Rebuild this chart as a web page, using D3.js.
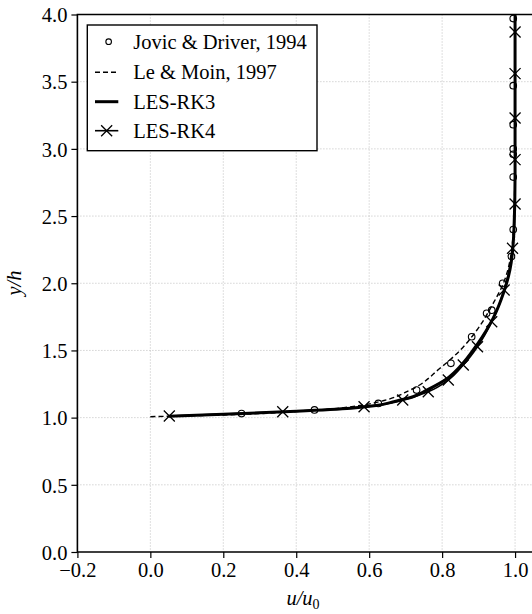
<!DOCTYPE html>
<html>
<head>
<meta charset="utf-8">
<script src="https://cdn.jsdelivr.net/npm/d3@7"></script>
<style>
  html, body { margin: 0; padding: 0; background: #fff; }
  svg { display: block; font-family: "Liberation Serif", "DejaVu Serif", serif; }
</style>
</head>
<body>
<svg id="chart" width="532" height="614"></svg>
<script>
// Jovic & Driver, 1994 (open circles)
const jovicX = [0.25, 0.45, 0.625, 0.73, 0.824, 0.881, 0.922, 0.936, 0.966, 0.99, 0.995, 0.995, 0.995, 0.995, 0.995, 0.995, 0.995];
const jovicY = [1.03, 1.057, 1.106, 1.205, 1.404, 1.602, 1.776, 1.80, 2.0, 2.20, 2.40, 2.79, 2.96, 3.0, 3.18, 3.47, 3.97];

// Le & Moin, 1997 (dashed)
const leMoinX = [0.0, 0.2, 0.4, 0.575, 0.63, 0.712, 0.794, 0.849, 0.895, 0.94, 0.968, 0.988, 0.997, 1.0, 1.0];
const leMoinY = [1.007, 1.02, 1.045, 1.09, 1.12, 1.205, 1.367, 1.50, 1.65, 1.85, 2.0, 2.2, 2.5, 3.0, 4.0];

// LES-RK3 (thick solid)
const rk3X = [0.05, 0.2, 0.4, 0.55, 0.62, 0.667, 0.72, 0.758, 0.813, 0.849, 0.895, 0.94, 0.968, 0.986, 0.997, 1.0, 1.0];
const rk3Y = [1.01, 1.025, 1.048, 1.07, 1.09, 1.118, 1.155, 1.205, 1.29, 1.38, 1.54, 1.74, 1.925, 2.1, 2.4, 2.8, 4.0];

// LES-RK4 (solid with x markers)
const rk4X = [0.052, 0.363, 0.586, 0.692, 0.762, 0.817, 0.858, 0.897, 0.936, 0.970, 0.993, 1.0, 1.0, 1.0, 1.0, 1.0];
const rk4Y = [1.012, 1.044, 1.081, 1.131, 1.193, 1.28, 1.391, 1.528, 1.713, 1.95, 2.26, 2.59, 2.92, 3.23, 3.56, 3.87];
const rk4EndX = 1.0, rk4EndY = 4.0;

const xTicks = [-0.2, 0.0, 0.2, 0.4, 0.6, 0.8, 1.0];
const yTicks = [0.0, 0.5, 1.0, 1.5, 2.0, 2.5, 3.0, 3.5, 4.0];
const legendLabels = ["Jovic & Driver, 1994", "Le & Moin, 1997", "LES-RK3", "LES-RK4"];

const zip = (xs, ys) => xs.map((x, i) => [x, ys[i]]);

const svg = d3.select("#chart");
const pLeft = 77.4, pRight = 533.3, pTop = 14.5, pBottom = 552;

const x = d3.scaleLinear().domain([-0.2, 1.05]).range([pLeft, pRight]);
const y = d3.scaleLinear().domain([0, 4]).range([pBottom, pTop]);

svg.append("defs").append("clipPath").attr("id", "plot")
  .append("rect").attr("x", pLeft).attr("y", pTop - 6)
  .attr("width", pRight - pLeft).attr("height", pBottom - pTop + 6);

// grid
const grid = svg.append("g").attr("stroke", "#b8b8b8").attr("stroke-width", 0.9)
  .attr("stroke-dasharray", "1,2");
grid.selectAll(".gx").data(xTicks.slice(1)).enter().append("line")
  .attr("x1", d => x(d)).attr("x2", d => x(d)).attr("y1", pTop).attr("y2", pBottom);
grid.selectAll(".gy").data(yTicks.slice(1, -1)).enter().append("line")
  .attr("y1", d => y(d)).attr("y2", d => y(d)).attr("x1", pLeft).attr("x2", pRight);

// axes
const xAxis = svg.append("g")
  .attr("transform", `translate(0,${pBottom})`)
  .call(d3.axisBottom(x).tickValues(xTicks).tickSize(6).tickPadding(4)
    .tickFormat(d => d3.format(".1f")(d).replace("-", "\u2212")));
const yAxis = svg.append("g")
  .attr("transform", `translate(${pLeft},0)`)
  .call(d3.axisLeft(y).tickValues(yTicks).tickSize(6).tickPadding(4).tickFormat(d3.format(".1f")));
[xAxis, yAxis].forEach(g => {
  g.select(".domain").remove();
  g.selectAll(".tick line").attr("stroke", "#000").attr("stroke-width", 1.2);
  g.selectAll(".tick text").attr("font-size", 20.5).attr("fill", "#000")
    .attr("font-family", "Liberation Serif, serif");
});
yAxis.selectAll(".tick text").attr("dy", "0.35em");

// spines
svg.append("path")
  .attr("d", `M${pRight},${pTop}H${pLeft}V${pBottom}H${pRight}`)
  .attr("fill", "none").attr("stroke", "#000").attr("stroke-width", 1.6);

const plot = svg.append("g").attr("clip-path", "url(#plot)");
const line = d3.line().x(d => x(d[0])).y(d => y(d[1])).curve(d3.curveMonotoneY);

plot.append("path")
  .attr("d", line(zip(leMoinX, leMoinY)))
  .attr("fill", "none").attr("stroke", "#000").attr("stroke-width", 1.4)
  .attr("stroke-dasharray", "5,3");

plot.append("path")
  .attr("d", line(zip(rk3X, rk3Y)))
  .attr("fill", "none").attr("stroke", "#000").attr("stroke-width", 3);

const rk4 = zip(rk4X, rk4Y);
plot.append("path")
  .attr("d", line(rk4.concat([[rk4EndX, rk4EndY]])))
  .attr("fill", "none").attr("stroke", "#000").attr("stroke-width", 1.6);

const cross = 5.5;
const xMark = (g, cx, cy) => g.append("path")
  .attr("d", `M${cx - cross},${cy - cross}L${cx + cross},${cy + cross}M${cx - cross},${cy + cross}L${cx + cross},${cy - cross}`)
  .attr("stroke", "#000").attr("stroke-width", 1.3).attr("fill", "none");
rk4.forEach(d => xMark(plot, x(d[0]), y(d[1])));

plot.selectAll(".jovic").data(zip(jovicX, jovicY)).enter().append("circle")
  .attr("cx", d => x(d[0])).attr("cy", d => y(d[1])).attr("r", 3.3)
  .attr("fill", "none").attr("stroke", "#000").attr("stroke-width", 1.1);

// legend
const lg = svg.append("g");
lg.append("rect").attr("x", 87.3).attr("y", 25).attr("width", 229.7).attr("height", 125.7)
  .attr("fill", "#fff").attr("stroke", "#000").attr("stroke-width", 1.4);
const rowY = [41.7, 72.2, 101.7, 130.7];
const hx0 = 95, hx1 = 118.3, hxc = (hx0 + hx1) / 2;
lg.append("circle").attr("cx", hxc + 2).attr("cy", rowY[0]).attr("r", 2.8)
  .attr("fill", "none").attr("stroke", "#000").attr("stroke-width", 1.1);
lg.append("line").attr("x1", hx0).attr("x2", hx1).attr("y1", rowY[1]).attr("y2", rowY[1])
  .attr("stroke", "#000").attr("stroke-width", 1.4).attr("stroke-dasharray", "5,3");
lg.append("line").attr("x1", hx0).attr("x2", hx1).attr("y1", rowY[2]).attr("y2", rowY[2])
  .attr("stroke", "#000").attr("stroke-width", 3);
lg.append("line").attr("x1", hx0).attr("x2", hx1).attr("y1", rowY[3]).attr("y2", rowY[3])
  .attr("stroke", "#000").attr("stroke-width", 1.6);
xMark(lg, hxc, rowY[3]);
lg.selectAll(".lt").data(legendLabels).enter().append("text")
  .attr("x", 133.3).attr("y", (d, i) => rowY[i]).attr("dy", "0.35em")
  .attr("font-size", 20.5).text(d => d);

// axis labels
const xl = svg.append("text").attr("x", 303).attr("y", 605).attr("text-anchor", "middle")
  .attr("font-size", 20.5).attr("font-style", "italic");
xl.append("tspan").text("u/u");
xl.append("tspan").attr("font-size", 14).attr("font-style", "normal").attr("dy", 4).text("0");

svg.append("text").attr("transform", "translate(21,283) rotate(-90)")
  .attr("text-anchor", "middle").attr("font-size", 20.5).attr("font-style", "italic").text("y/h");
</script>
</body>
</html>
